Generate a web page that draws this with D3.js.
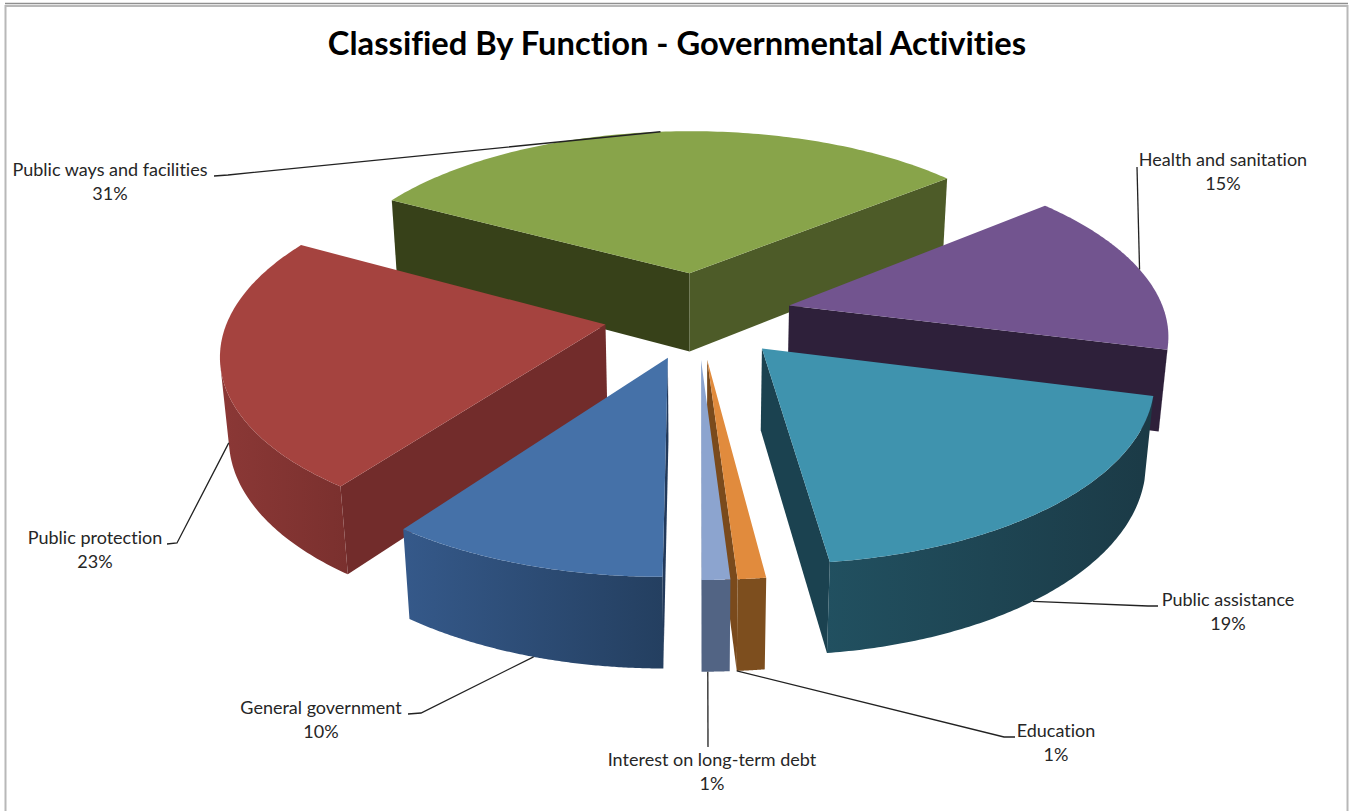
<!DOCTYPE html>
<html>
<head>
<meta charset="utf-8">
<title>Classified By Function - Governmental Activities</title>
<script src="https://cdnjs.cloudflare.com/ajax/libs/d3/7.8.5/d3.min.js"></script>
<style>
  html, body { margin: 0; padding: 0; background: #fff; }
  svg { display: block; }
  text { font-family: Lato, "Open Sans", sans-serif; fill: #262626; font-variant-ligatures: none; }
</style>
</head>
<body>
<svg id="chart" width="1350" height="811"></svg>
<script>
// Functions in the order they go round the pie, clockwise from the front.
const categories = ["General government", "Public protection", "Public ways and facilities",
  "Health and sanitation", "Public assistance", "Education", "Interest on long-term debt"];
const percentages = [10, 23, 31, 15, 19, 1, 1];

// Shades of each slice: top surface, the two radial walls, outer rim left and right.
const topColors       = ["#4571A8", "#A5433F", "#88A44A", "#72548F", "#3F93AE", "#E18B3D", "#8CA4CF"];
const startWallColors = ["#22395A", "#722C2B", "#374119", "#2E203A", "#1B4250", "#6A4018", "#4A5A78"];
const endWallColors   = ["#2A4668", "#722C2B", "#4D5B28", "#2E203A", "#1B4250", "#7A4A1C", "#526484"];
const rimLeftColors   = ["#35598A", "#8B3836", "#4D5B28", "#2E203A", "#215060", "#7D4E1E", "#526484"];
const rimRightColors  = ["#243F60", "#7A302E", "#4D5B28", "#2E203A", "#1B3A46", "#7D4E1E", "#526484"];

// Where each label block sits, and the elbow of its leader line.
const labelCenters = [[321, 708], [95, 538], [110, 170], [1223, 160], [1228, 600], [1056, 731], [712, 760]];
const leaderElbows = [
  [[408, 714], [421, 713]],
  [[167, 544], [177, 543]],
  [[214, 176], [228, 175]],
  [[1137, 167], [1137, 167]],
  [[1158, 606], [1148, 606]],
  [[1015, 737], [1004, 737]],
  [[708, 747], [708, 747]]
];
// Point of the slice a leader touches: degrees past the slice's mid angle, and rim level (0 top, 1 bottom).
const leaderAnchors = [[-1, 1], [0, 0.95], [0, 0], [0, 0], [3.4, 1], [1.8, 1], [1, 1]];

// Scene geometry, in units of the pie radius.
const explode = 0.25, thickness = 0.245;
const tilt = 27.5 * Math.PI / 180, camDist = 6.14, focal = 2310, originX = 698, originY = 315;
const camera = [0, -camDist * Math.cos(tilt), camDist * Math.sin(tilt)];

// Perspective projection of a pie-space point to the page.
function project([x, y, z]) {
  const yc = y * Math.sin(tilt) + z * Math.cos(tilt);
  const zc = camDist + y * Math.cos(tilt) - z * Math.sin(tilt);
  return [originX + focal * x / zc, originY - focal * yc / zc];
}

const svg = d3.select("#chart");
const defs = svg.append("defs");
const polygon = d3.line();
const closed = pts => polygon(pts) + "Z";

// Page frame.
svg.append("rect").attr("x", 5.5).attr("y", 6).attr("width", 1342).attr("height", 820)
  .attr("fill", "#fff").attr("stroke", "#b8b8b8").attr("stroke-width", 2);
svg.append("line").attr("x1", 5).attr("x2", 1348).attr("y1", 3.5).attr("y2", 3.5)
  .attr("stroke", "#8f8f8f").attr("stroke-width", 1.5);

svg.append("text").attr("x", 677).attr("y", 55).attr("text-anchor", "middle")
  .attr("font-size", 32.7).attr("font-weight", 700).style("fill", "#000")
  .text("Classified By Function - Governmental Activities");

const arcs = d3.pie().sort(null).value(d => d)
  .startAngle(Math.PI).endAngle(3 * Math.PI)(percentages);

const slices = arcs.map((a, i) => {
  const mid = (a.startAngle + a.endAngle) / 2;
  const ox = Math.sin(mid) * explode, oy = Math.cos(mid) * explode;
  const rimPoint = (t, level) => [ox + Math.sin(t), oy + Math.cos(t), -level * thickness];
  const apex = level => [ox, oy, -level * thickness];
  return { a, i, mid, ox, oy, rimPoint, apex };
});

const facing = (p, n) => (camera[0] - p[0]) * n[0] + (camera[1] - p[1]) * n[1] + (camera[2] - p[2]) * n[2] > 0;

// Far slices first, so nearer ones cover them.
const order = slices.slice().sort((s, t) => {
  const depth = d => d.oy + Math.cos(d.mid) * 0.6;
  return depth(t) - depth(s);
});

const groups = svg.selectAll("g.slice").data(order).join("g").attr("class", "slice");

groups.each(function (s) {
  const g = d3.select(this);
  const { a, i, rimPoint, apex } = s;

  // Radial wall at either end of the slice, drawn only when it faces the viewer.
  const wall = (angle, normal, color) => {
    if (!facing(rimPoint(angle, 0), normal)) return;
    const quad = [apex(0), rimPoint(angle, 0), rimPoint(angle, 1), apex(1)].map(project);
    g.append("path").attr("d", closed(quad)).attr("fill", color);
  };
  wall(a.startAngle, [-Math.cos(a.startAngle), Math.sin(a.startAngle), 0], startWallColors[i]);
  wall(a.endAngle, [Math.cos(a.endAngle), -Math.sin(a.endAngle), 0], endWallColors[i]);

  // Outer rim: only the stretch that turns towards the viewer.
  const steps = d3.range(0, 121).map(k => a.startAngle + (a.endAngle - a.startAngle) * k / 120);
  const seen = steps.filter(t => facing(rimPoint(t, 0), [Math.sin(t), Math.cos(t), 0]));
  if (seen.length > 1) {
    const upper = seen.map(t => project(rimPoint(t, 0)));
    const lower = seen.map(t => project(rimPoint(t, 1)));
    const xs = d3.extent(upper.concat(lower), p => p[0]);
    const id = "rim" + i;
    const grad = defs.append("linearGradient").attr("id", id)
      .attr("gradientUnits", "userSpaceOnUse")
      .attr("x1", xs[0]).attr("x2", xs[1]).attr("y1", 0).attr("y2", 0);
    grad.append("stop").attr("offset", 0).attr("stop-color", rimLeftColors[i]);
    grad.append("stop").attr("offset", 1).attr("stop-color", rimRightColors[i]);
    g.append("path").attr("d", closed(upper.concat(lower.reverse()))).attr("fill", `url(#${id})`);
  }

  // Top surface.
  const outline = [apex(0)].concat(steps.map(t => rimPoint(t, 0))).map(project);
  g.append("path").attr("d", closed(outline)).attr("fill", topColors[i]);
});

// Leader lines and labels.
slices.forEach(s => {
  const [shift, level] = leaderAnchors[s.i];
  const end = project(s.rimPoint(s.mid + shift * Math.PI / 180, level));
  const pts = [...leaderElbows[s.i], end];
  svg.append("path").attr("d", polygon(pts)).attr("fill", "none")
    .attr("stroke", "#222").attr("stroke-width", 1.3);
  const [cx, cy] = labelCenters[s.i];
  const label = svg.append("text").attr("text-anchor", "middle").attr("font-size", 18);
  label.append("tspan").attr("x", cx).attr("y", cy + 6).text(categories[s.i]);
  label.append("tspan").attr("x", cx).attr("y", cy + 30).text(d3.format("d")(percentages[s.i]) + "%");
});
</script>
</body>
</html>
